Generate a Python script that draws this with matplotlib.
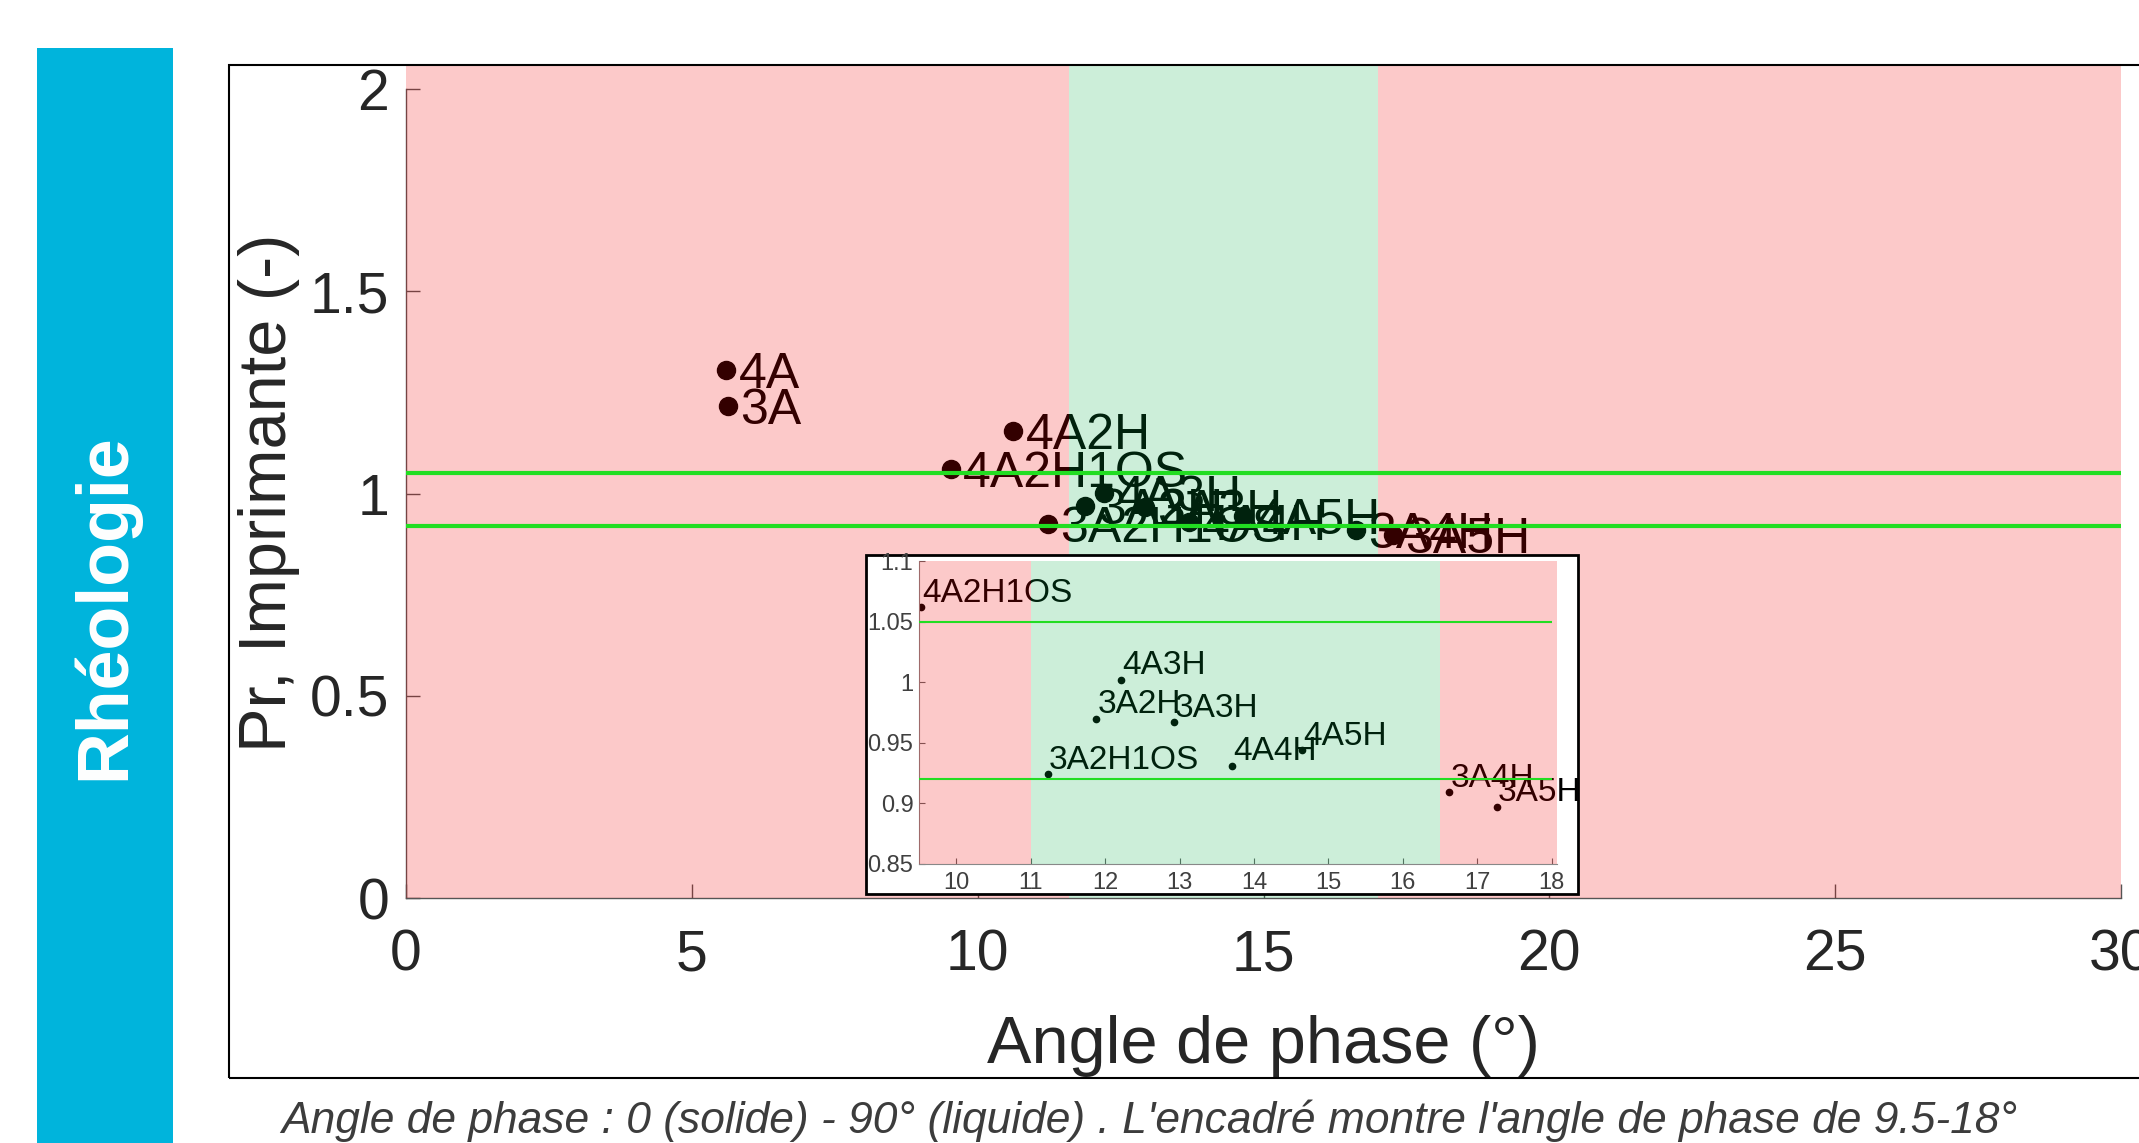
import matplotlib
matplotlib.use('Agg')
import matplotlib.pyplot as plt
from matplotlib import font_manager
from matplotlib.patches import Rectangle

# values
names = ['4A', '3A', '4A2H', '4A2H1OS', '3A2H1OS', '3A2H', '4A3H', '3A3H',
         '4A4H', '4A5H', '3A4H', '3A5H']
angle = [5.60, 5.63, 10.62, 9.53, 11.23, 11.88, 12.21, 12.92,
         13.70, 14.64, 16.62, 17.26]
pr = [1.305, 1.217, 1.154, 1.062, 0.924, 0.970, 1.002, 0.967,
      0.931, 0.944, 0.909, 0.897]
pr_limits = [0.92, 1.05]
green_main = [11.6, 17.0]
green_inset = [11.0, 16.5]
x_ticks = [0, 5, 10, 15, 20, 25, 30]
y_ticks = [0, 0.5, 1, 1.5, 2]
y_ticklabels = ['0', '0.5', '1', '1.5', '2']
inset_xticks = [10, 11, 12, 13, 14, 15, 16, 17, 18]
inset_yticks = [0.85, 0.9, 0.95, 1, 1.05, 1.1]
inset_yticklabels = ['0.85', '0.9', '0.95', '1', '1.05', '1.1']
caption = "Angle de phase : 0 (solide) - 90° (liquide) . L'encadré montre l'angle de phase de 9.5-18°"

avail = {f.name for f in font_manager.fontManager.ttflist}
if 'Liberation Sans Narrow' in avail:
    narrow, shrink = 'Liberation Sans Narrow', 1.0
else:
    narrow, shrink = 'Liberation Sans', 0.82
plt.rcParams['font.family'] = ['Liberation Sans', 'DejaVu Sans']

W, H = 2139, 1143
def box(x0, y0, x1, y1):
    # pixel box (top-left origin) -> figure fraction rect
    return [x0 / W, 1 - y1 / H, (x1 - x0) / W, (y1 - y0) / H]

red = (0.96, 0, 0)
green = (0, 0.67, 0.27)
line_green = '#22DD22'
txt = '#262626'

fig = plt.figure(figsize=(W / 100, H / 100), dpi=100)

# slide decorations
fig.add_artist(Rectangle((37 / W, 0), 136 / W, 1 - 48 / H, transform=fig.transFigure,
                         fc='#00B4DC', ec='none', zorder=0.2))
fig.text(105 / W, 1 - 607 / H, 'Rhéologie', rotation=90, color='white',
         fontweight='bold', fontsize=63 * shrink, family=narrow, ha='center', va='center')
fig.text(1149 / W, 1 - 1121 / H, caption, style='italic', fontsize=39 * shrink,
         family=narrow, color='#3C3C3C', ha='center', va='center')
fig.add_artist(Rectangle((229 / W, 1 - 1078 / H), (2200 - 229) / W, (1078 - 65) / H,
                         transform=fig.transFigure, fill=False, ec='black', lw=1.5, zorder=0.5))

#%% main axes
ax = fig.add_axes(box(406, 65, 2121, 898))
ax.set_xlim(0, 30)
ax.set_ylim(0, 2.06)
ax.axvspan(0, green_main[0], color=red, alpha=0.21, lw=0, zorder=3)
ax.axvspan(green_main[1], 30, color=red, alpha=0.21, lw=0, zorder=3)
ax.axvspan(green_main[0], green_main[1], color=green, alpha=0.2, lw=0, zorder=3)
for v in pr_limits:
    ax.axhline(v, color=line_green, lw=3, zorder=4)
ax.plot(angle, pr, 'o', color='k', ms=13, zorder=2)
for n, x, y in zip(names, angle, pr):
    ax.annotate(n, (x, y), xytext=(9, 0), textcoords='offset points',
                va='center_baseline', fontsize=36, color='k', zorder=2)
ax.set_xticks(x_ticks)
ax.set_yticks(y_ticks)
ax.set_yticklabels(y_ticklabels)
ax.tick_params(direction='in', length=10, width=1, color='#555555',
               labelsize=41, labelcolor=txt)
ax.tick_params(axis='x', pad=22)
ax.tick_params(axis='y', pad=12)
for s in ['top', 'right']:
    ax.spines[s].set_visible(False)
ax.spines['left'].set_bounds(0, 2)
for s in ['left', 'bottom']:
    ax.spines[s].set_color('#555555')
    ax.spines[s].set_linewidth(1)
ax.set_xlabel('Angle de phase (°)', fontsize=48, color=txt)
ax.xaxis.set_label_coords(0.5, -0.14)
ax.set_ylabel('Pr, Imprimante (-)', fontsize=48, color=txt)
ax.yaxis.set_label_coords(-0.062, 0.486)

#%% inset (9.5 - 18 degrees)
fig.add_artist(Rectangle((866 / W, 1 - 894 / H), (1578 - 866) / W, (894 - 555) / H,
                         transform=fig.transFigure, fc='white', ec='black', lw=2, zorder=1.5))
ins = fig.add_axes(box(919, 561, 1557, 864))
ins.set_zorder(3)
ins.set_xlim(9.5, 18.07)
ins.set_ylim(0.85, 1.1)
ins.axvspan(9.5, green_inset[0], color=red, alpha=0.21, lw=0, zorder=3)
ins.axvspan(green_inset[1], 18.07, color=red, alpha=0.21, lw=0, zorder=3)
ins.axvspan(green_inset[0], green_inset[1], color=green, alpha=0.2, lw=0, zorder=3)
ins.hlines(pr_limits, 9.5, 18, colors=line_green, lw=1.5, zorder=4)
sel = [i for i, x in enumerate(angle) if x >= 9.5]
ins.plot([angle[i] for i in sel], [pr[i] for i in sel], 'o', color='k', ms=4.5, zorder=2)
for i in sel:
    ins.annotate(names[i], (angle[i], pr[i]), xytext=(1, 4), textcoords='offset points',
                 va='baseline', fontsize=24, color='k', zorder=2)
ins.set_xticks(inset_xticks)
ins.set_yticks(inset_yticks)
ins.set_yticklabels(inset_yticklabels)
ins.tick_params(direction='in', length=4, width=0.8, color='#666666',
                labelsize=17, labelcolor='#404040')
ins.tick_params(axis='x', pad=6)
ins.tick_params(axis='y', pad=4)
for s in ['top', 'right']:
    ins.spines[s].set_visible(False)
for s in ['left', 'bottom']:
    ins.spines[s].set_color('#888888')
    ins.spines[s].set_linewidth(0.8)

fig.savefig('out.png', dpi=100)
